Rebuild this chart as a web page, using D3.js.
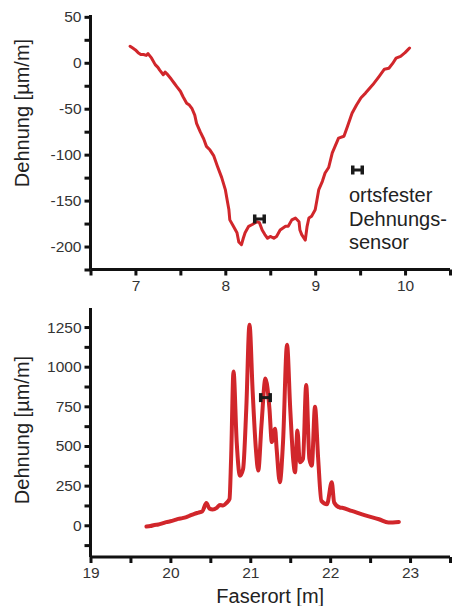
<html>
  <head>
    <meta charset="utf-8">
    <script src="https://d3js.org/d3.v7.min.js"></script>
    <style>
      body { margin: 0; background: white; }
      text { font-family: "Liberation Sans", Arial, Helvetica, sans-serif; fill: #222; }
      .axis path, .axis line { stroke: #111; stroke-width: 3; }
      .axis text { font-size: 15.5px; fill: #333; }
      .curve { fill: none; stroke: #d1262b; stroke-linejoin: round; stroke-linecap: round; }
    </style>
  </head>
  <body>
    <svg id="chart" width="464" height="606"></svg>
    <script>
      // top panel: Faserort [m] vs Dehnung [µm/m]
      var topPos = [6.94, 6.97, 7.00, 7.03, 7.06, 7.09, 7.12, 7.14, 7.18, 7.22, 7.25, 7.27, 7.31, 7.33, 7.35,
        7.40, 7.43, 7.46, 7.50, 7.53, 7.57, 7.60, 7.63, 7.66, 7.68, 7.72, 7.76, 7.79, 7.83, 7.87, 7.91,
        7.96, 8.00, 8.02, 8.04, 8.05, 8.09, 8.13, 8.15, 8.18, 8.20, 8.22, 8.26, 8.30, 8.35, 8.38, 8.41,
        8.44, 8.47, 8.50, 8.54, 8.57, 8.61, 8.67, 8.70, 8.74, 8.78, 8.82, 8.83, 8.85, 8.89, 8.91, 8.93,
        8.96, 9.00, 9.02, 9.04, 9.08, 9.11, 9.15, 9.19, 9.26, 9.32, 9.36, 9.41, 9.46, 9.51, 9.56, 9.64,
        9.71, 9.77, 9.82, 9.86, 9.90, 9.95, 10.00, 10.03, 10.05];
      var topStrain = [18, 16, 14, 11, 9, 9, 8, 10, 5, -2, -5, -8, -13, -10, -12,
        -18, -22, -26, -31, -37, -44, -46, -50, -57, -66, -75, -83, -91, -95, -101, -112,
        -125, -138, -149, -160, -171, -178, -185, -195, -198, -191, -185, -178, -176, -173, -174, -182,
        -187, -191, -189, -191, -189, -182, -178, -178, -171, -169, -173, -182, -187, -193, -178, -169,
        -167, -160, -149, -138, -129, -120, -114, -98, -82, -80, -69, -55, -46, -38, -33, -24,
        -15, -7, -6, -1, 5, 7, 11, 14, 16];

      // bottom panel
      var botPos = [19.70, 19.75, 19.80, 19.85, 19.90, 19.95, 20.00, 20.05, 20.10, 20.15, 20.20, 20.25,
        20.30, 20.35, 20.40, 20.45, 20.49, 20.53, 20.58, 20.62, 20.66, 20.70, 20.74, 20.76, 20.79,
        20.83, 20.87, 20.91, 20.95, 20.99, 21.03, 21.07, 21.10, 21.14, 21.19, 21.24, 21.27, 21.31,
        21.33, 21.37, 21.41, 21.46, 21.50, 21.54, 21.56, 21.59, 21.62, 21.66, 21.70, 21.74, 21.77,
        21.81, 21.85, 21.89, 21.96, 22.02, 22.05, 22.12, 22.15, 22.27, 22.44, 22.61, 22.73, 22.86];
      var botStrain = [-8, -5, 2, 5, 12, 20, 25, 32, 40, 45, 52, 62,
        72, 80, 88, 140, 105, 100, 110, 128, 125, 140, 165, 420, 970,
        525, 313, 355, 736, 1265, 842, 482, 345, 630, 926, 736, 525, 609,
        482, 271, 525, 1138, 736, 398, 334, 598, 398, 419, 884, 419, 376,
        747, 419, 154, 133, 271, 144, 112, 110, 91, 63, 38, 17, 21];

      // fixed strain sensor positions [pos, strain]
      var sensorTop = [8.38, -170];
      var sensorBot = [21.19, 805];

      var topXTicks = [6.5, 7, 7.5, 8, 8.5, 9, 9.5, 10, 10.5];
      var topYTicks = [-225, -200, -175, -150, -125, -100, -75, -50, -25, 0, 25, 50];
      var botXTicks = [19, 19.5, 20, 20.5, 21, 21.5, 22, 22.5, 23, 23.5];
      var botYTicks = [-125, 0, 125, 250, 375, 500, 625, 750, 875, 1000, 1125, 1250];

      var yTitle = 'Dehnung [µm/m]';
      var xTitle = 'Faserort [m]';
      var legendLines = ['ortsfester', 'Dehnungs-', 'sensor'];

      var svg = d3.select('#chart');
      var left = 90.5, right = 450;

      function sensor(g, cx, cy) {
        var s = g.append('g').attr('transform', 'translate(' + cx + ',' + cy + ')');
        s.append('rect').attr('x', -6.5).attr('y', -4.5).attr('width', 3.5).attr('height', 9).attr('fill', '#1a1a1a');
        s.append('rect').attr('x', 3).attr('y', -4.5).attr('width', 3.5).attr('height', 9).attr('fill', '#1a1a1a');
        s.append('rect').attr('x', -4).attr('y', -1.5).attr('width', 8).attr('height', 3).attr('fill', '#1a1a1a');
      }

      function panel(cfg) {
        var x = d3.scaleLinear().domain(cfg.xDomain).range([left, right]);
        var y = d3.scaleLinear().domain(cfg.yDomain).range([cfg.bottom, cfg.top]);

        var xAxis = d3.axisBottom(x).tickValues(cfg.xTicks).tickSize(6).tickPadding(4)
          .tickFormat(function(d) { return d % 1 === 0 ? d : ''; });
        svg.append('g').attr('class', 'axis').attr('transform', 'translate(0,' + cfg.bottom + ')')
          .call(xAxis)
          .call(function(g) { g.select('.domain').attr('d', 'M' + left + ',0H' + right); });

        var yAxis = d3.axisLeft(y).tickValues(cfg.yTicks).tickSize(6).tickPadding(3)
          .tickFormat(function(d) { return d % cfg.yLabelStep === 0 ? d : ''; });
        svg.append('g').attr('class', 'axis').attr('transform', 'translate(' + left + ',0)')
          .call(yAxis)
          .call(function(g) { g.select('.domain').attr('d', 'M0,' + cfg.top + 'V' + cfg.bottom); });

        var pts = cfg.pos.map(function(p, i) { return [p, cfg.strain[i]]; });
        var line = d3.line()
          .x(function(d) { return x(d[0]); })
          .y(function(d) { return y(d[1]); })
          .curve(cfg.curve);
        svg.append('path').attr('class', 'curve').attr('stroke-width', cfg.width).attr('d', line(pts));

        sensor(svg, x(cfg.sensor[0]), y(cfg.sensor[1]));

        svg.append('text')
          .attr('transform', 'translate(29,' + cfg.titleY + ') rotate(-90)')
          .attr('text-anchor', 'middle')
          .style('font-size', '20px')
          .text(yTitle);
        return { x: x, y: y };
      }

      panel({
        xDomain: [6.5, 10.5], yDomain: [-225, 52], top: 15, bottom: 269.5,
        xTicks: topXTicks, yTicks: topYTicks, yLabelStep: 50,
        pos: topPos, strain: topStrain, sensor: sensorTop,
        curve: d3.curveLinear, width: 3, titleY: 113
      });

      panel({
        xDomain: [19, 23.5], yDomain: [-200, 1370], top: 308, bottom: 557,
        xTicks: botXTicks, yTicks: botYTicks, yLabelStep: 250,
        pos: botPos, strain: botStrain, sensor: sensorBot,
        curve: d3.curveMonotoneX, width: 4, titleY: 430
      });

      svg.append('text')
        .attr('x', (left + right) / 2).attr('y', 603)
        .attr('text-anchor', 'middle')
        .style('font-size', '20px')
        .text(xTitle);

      // legend
      sensor(svg, 357.5, 170);
      svg.selectAll('.legend-line').data(legendLines).enter().append('text')
        .attr('class', 'legend-line')
        .attr('x', 349).attr('y', function(d, i) { return 202 + i * 23.5; })
        .style('font-size', '20px')
        .text(function(d) { return d; });
    </script>
  </body>
</html>
